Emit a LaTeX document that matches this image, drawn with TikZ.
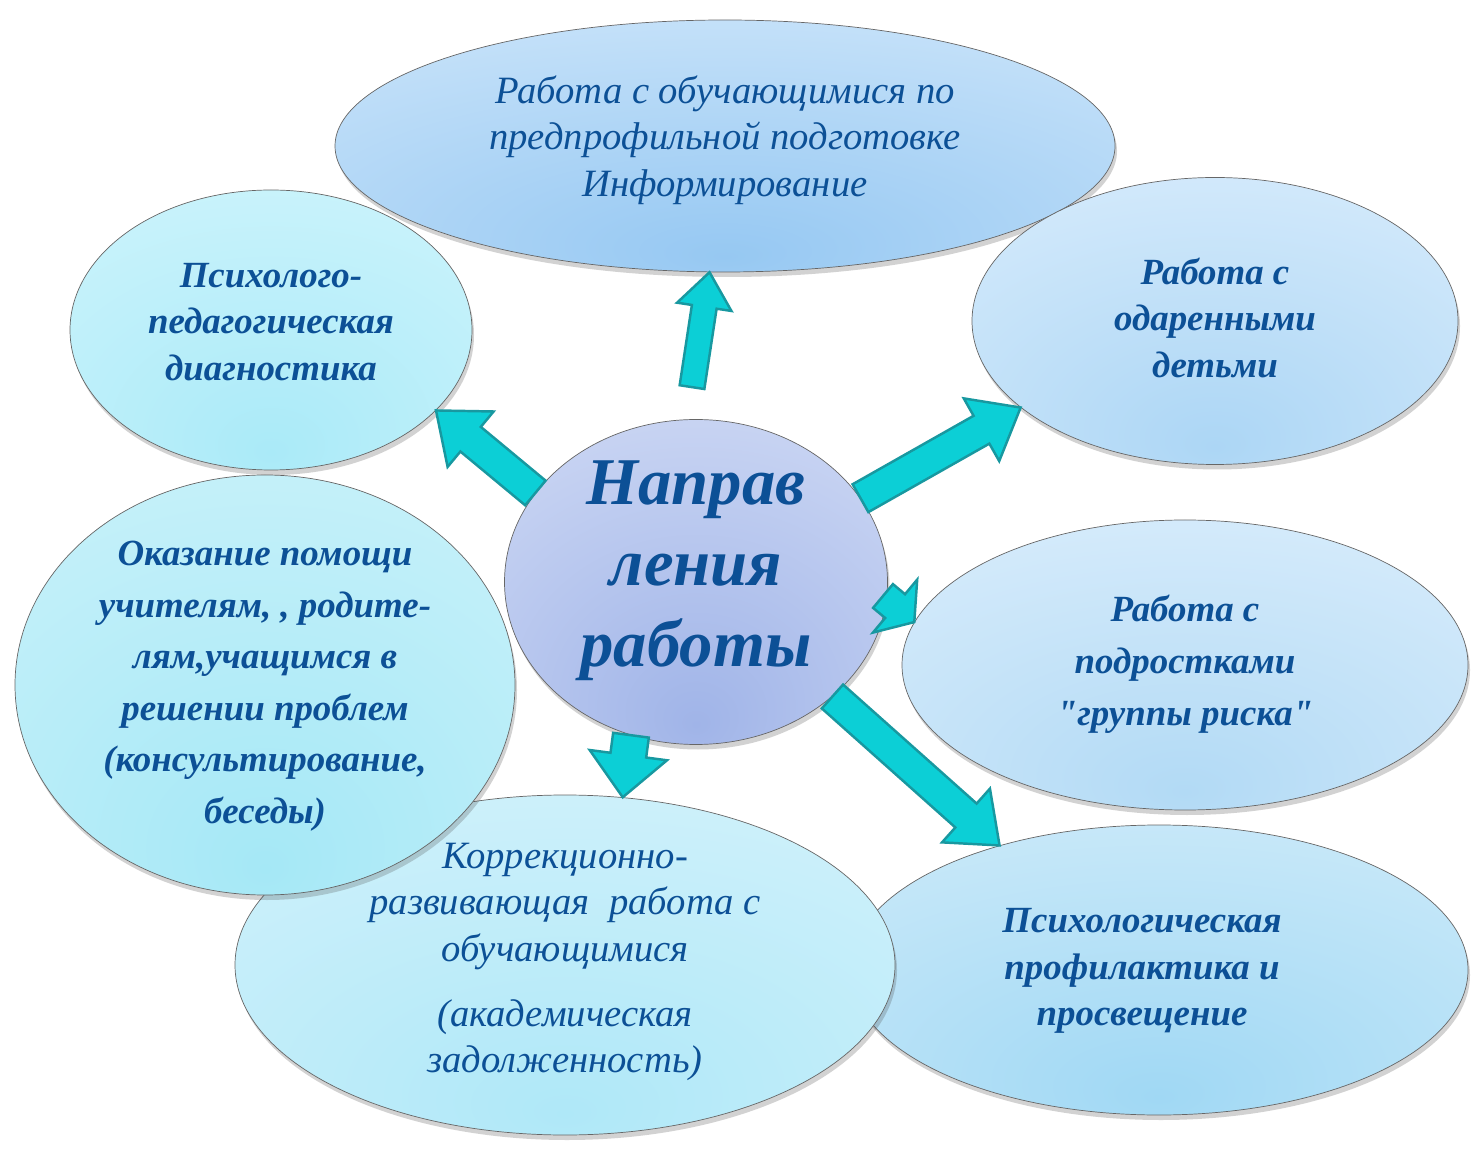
\documentclass[tikz,border=0pt]{standalone}
\usepackage{fontspec}
\setmainfont{Liberation Serif}[Ligatures=TeXOff]
\usepackage{tikz}
\usetikzlibrary{shapes.geometric}
\usetikzlibrary{calc}
\usetikzlibrary{shadows}

\definecolor{textblue}{RGB}{12,80,150}
\definecolor{arrowfill}{RGB}{12,207,214}
\definecolor{arrowedge}{RGB}{24,152,160}
\definecolor{glowin}{RGB}{170,220,245}
\definecolor{glowout}{RGB}{230,245,254}
\definecolor{topin}{RGB}{150,200,242}
\definecolor{topout}{RGB}{228,242,254}
\definecolor{diagin}{RGB}{170,234,248}
\definecolor{diagout}{RGB}{222,249,253}
\definecolor{giftin}{RGB}{172,214,245}
\definecolor{giftout}{RGB}{236,246,255}
\definecolor{dirin}{RGB}{160,180,232}
\definecolor{dirout}{RGB}{228,234,250}
\definecolor{riskin}{RGB}{178,218,245}
\definecolor{riskout}{RGB}{236,246,255}
\definecolor{helpin}{RGB}{165,232,246}
\definecolor{helpout}{RGB}{218,246,252}
\definecolor{corrin}{RGB}{175,232,248}
\definecolor{corrout}{RGB}{226,246,252}
\definecolor{profin}{RGB}{160,216,244}
\definecolor{profout}{RGB}{226,243,252}

\pgfdeclareradialshading[glowin,glowout]{glow}{\pgfpoint{0bp}{-22bp}}{%
  color(0bp)=(glowin); color(30bp)=(glowin!55!glowout);
  color(66bp)=(glowout); color(100bp)=(glowout)}

\begin{document}
\begin{tikzpicture}[
                bubble/.style 2 args={ellipse, draw=black!60, line width=0.4pt,
                        inner sep=0pt, /utils/exec={\colorlet{glowin}{#1}\colorlet{glowout}{#2}},
                        shading=glow, drop shadow={shadow xshift=0.04cm,
                        shadow yshift=-0.1cm, opacity=0.25, fill=black!70}},
                txt/.style={text=textblue, align=center,
                        font=\itshape\fontsize{22}{26.5}\selectfont},
                btxt/.style={txt, font=\bfseries\itshape\fontsize{21}{26.5}\selectfont},
                blockarr/.style={fill=arrowfill, draw=arrowedge, line width=1.4pt,
                        line join=miter},
            ]
            \useasboundingbox (0,0) rectangle (29.54,23.06);

            % outer bubbles
            \node[bubble={profin}{profout}, minimum width=12.36cm, minimum height=5.8cm] (prof) at (23.18,3.66) {};
            \node[bubble={corrin}{corrout}, minimum width=13.2cm, minimum height=6.8cm] (corr) at (11.3,3.76) {};
            \node[bubble={helpin}{helpout}, minimum width=10cm, minimum height=8.4cm] (help) at (5.3,9.36) {};
            \node[bubble={diagin}{diagout}, minimum width=8.04cm, minimum height=5.6cm] (diag) at (5.42,16.46) {};
            \node[bubble={topin}{topout}, minimum width=15.6cm, minimum height=5.04cm] (top) at (14.5,20.14) {};
            \node[bubble={giftin}{giftout}, minimum width=9.72cm, minimum height=5.74cm] (gifted) at (24.3,16.64) {};
            \node[bubble={riskin}{riskout}, minimum width=11.32cm, minimum height=5.8cm] (risk) at (23.7,9.76) {};

            % centre bubble
            \node[bubble={dirin}{dirout}, minimum width=7.66cm, minimum height=6.5cm] (dir) at (13.92,11.42) {};
            \coordinate (uptail) at ($(dir.north)+(-0.08,0.64)$);
            \coordinate (risktail) at (17.66,11.14);

            % block arrows
            \foreach \tail/\tip/\sw/\hw/\hl in {uptail/top.-97/0.25cm/0.55cm/0.7cm,
                    dir.151/diag.-26/0.32cm/0.72cm/0.9cm,
                    dir.27/gifted.204/0.32cm/0.72cm/0.9cm,
                    risktail/risk.171/0.31cm/0.69cm/0.5cm,
                    dir.-40/prof.142/0.32cm/0.72cm/0.9cm,
                    dir.-113/corr.71/0.36cm/0.78cm/0.85cm}{
                \coordinate (hb) at ($(\tip)!\hl!(\tail)$);
                \draw[blockarr] ($(\tail)!\sw!90:(\tip)$) -- ($(hb)!\sw!-90:(\tail)$)
                    -- ($(hb)!\hw!-90:(\tail)$) -- (\tip) -- ($(hb)!\hw!90:(\tail)$)
                    -- ($(hb)!\sw!90:(\tail)$) -- ($(\tail)!\sw!-90:(\tip)$) -- cycle;
            }

            % texts
            \node[txt] (toptxt) at ($(top.center)+(0,0.12)$) {Работа с обучающимися по\\предпрофильной подготовке\\Информирование};
            \node[btxt] (diagtxt) at ($(diag.center)+(0,0.16)$) {Психолого-\\педагогическая\\диагностика};
            \node[btxt] (gifttxt) at ($(gifted.center)+(0,0.06)$) {Работа с\\одаренными\\детьми};
            \node[btxt, font=\bfseries\itshape\fontsize{21}{29.5}\selectfont] (risktxt) at ($(risk.center)+(0,0.02)$) {Работа с\\подростками\\"группы риска"};
            \node[btxt, font=\bfseries\itshape\fontsize{21}{29.3}\selectfont] (helptxt) at ($(help.center)+(0,-0.02)$) {Оказание помощи\\учителям, , родите-\\лям,учащимся в\\решении проблем\\(консультирование,\\беседы)};
            \node[txt] (corrtxt) at ($(corr.center)+(0,0.06)$) {Коррекционно-\\развивающая\ \ работа с\\обучающимися\\[0.36cm](академическая\\задолженность)};
            \node[btxt] (proftxt) at ($(prof.center)+(-0.34,-0.02)$) {Психологическая\\профилактика и\\просвещение};
            \node[btxt, font=\bfseries\itshape\fontsize{38}{46}\selectfont] (dirtxt) at ($(dir.center)+(0,0.22)$) {Направ\\ления\\работы};
        \end{tikzpicture}
\end{document}
